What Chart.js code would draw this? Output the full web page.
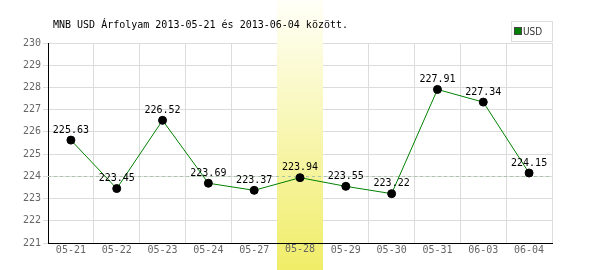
<!DOCTYPE html>
<html>
<head>
<meta charset="utf-8">
<script src="https://cdn.jsdelivr.net/npm/chart.js@4/dist/chart.umd.min.js"></script>
<style>
  html, body { margin: 0; padding: 0; background: #fff; }
  #wrap { width: 600px; height: 270px; }
</style>
</head>
<body>
<div id="wrap"><canvas id="myChart" width="600" height="270"></canvas></div>
<script>
'use strict';

// adatok
var labels = ['05-21', '05-22', '05-23', '05-24', '05-27', '05-28', '05-29', '05-30', '05-31', '06-03', '06-04'];
var usdValues = [225.63, 223.45, 226.52, 223.69, 223.37, 223.94, 223.55, 223.22, 227.91, 227.34, 224.15];
var yTicks = [221, 222, 223, 224, 225, 226, 227, 228, 229, 230];
var refLine = 224;
var highlightIndex = 5;
var titleText = 'MNB USD Árfolyam 2013-05-21 és 2013-06-04 között.';

var MONO = '10px "DejaVu Sans Mono", monospace';

// saját rajzolás: kiemelt oszlop, szaggatott vonal, címkék, cím, jelmagyarázat
var extras = {
  id: 'extras',
  beforeDatasetsDraw: function(chart) {
    var c = chart.ctx, x = chart.scales.x, y = chart.scales.y, a = chart.chartArea;
    var step = (a.right - a.left) / labels.length;
    var cx = x.getPixelForValue(highlightIndex);
    var g = c.createLinearGradient(0, 0, 0, chart.height);
    g.addColorStop(0, '#fffff8');
    g.addColorStop(1, '#f0ed68');
    c.save();
    c.fillStyle = g;
    c.fillRect(Math.round(cx - step / 2), 0, Math.round(step), chart.height);
    // tengely vonal újra a kiemelés fölött
    c.strokeStyle = '#000';
    c.lineWidth = 1;
    c.beginPath();
    c.moveTo(a.left, Math.round(a.bottom) + 0.5);
    c.lineTo(a.right, Math.round(a.bottom) + 0.5);
    c.stroke();
    // a kiemelt címke újra
    c.font = MONO;
    c.fillStyle = '#666';
    c.textAlign = 'center';
    c.textBaseline = 'middle';
    c.fillText(labels[highlightIndex], cx, a.bottom + 6);
    // szaggatott vonal
    var ry = Math.round(y.getPixelForValue(refLine)) + 0.5;
    c.strokeStyle = '#a9c4a9';
    c.setLineDash([3, 3]);
    c.beginPath();
    c.moveTo(a.left, ry);
    c.lineTo(a.right, ry);
    c.stroke();
    c.restore();
  },
  afterDraw: function(chart) {
    var c = chart.ctx;
    var meta = chart.getDatasetMeta(0);
    c.save();
    c.font = MONO;
    c.fillStyle = '#000';
    c.textAlign = 'center';
    c.textBaseline = 'middle';
    meta.data.forEach(function(p, i) {
      c.fillText(usdValues[i].toFixed(2), p.x, p.y - 10);
    });
    // cím
    c.textAlign = 'left';
    c.fillText(titleText, 53, 25);
    // jelmagyarázat
    c.fillStyle = '#fff';
    c.fillRect(511.5, 21.5, 41, 20);
    c.strokeStyle = '#ddd';
    c.strokeRect(511.5, 21.5, 41, 20);
    c.fillStyle = '#008000';
    c.fillRect(515, 28, 6, 6);
    c.strokeStyle = '#444';
    c.strokeRect(514.5, 27.5, 7, 7);
    c.font = '10px "DejaVu Sans Condensed", "Liberation Sans Narrow", sans-serif';
    c.fillStyle = '#333';
    c.fillText(chart.data.datasets[0].label, 523, 32);
    c.restore();
  }
};

var ctx = document.getElementById('myChart').getContext('2d');

var chart = new Chart(ctx, {
  type: 'line',
  data: {
    labels: labels,
    datasets: [{
      label: 'USD',
      data: usdValues,
      borderColor: '#008000',
      borderWidth: 1,
      tension: 0,
      pointRadius: 4,
      pointHoverRadius: 4,
      pointBackgroundColor: '#000',
      pointBorderColor: '#000',
      pointBorderWidth: 1
    }]
  },
  options: {
    responsive: false,
    animation: false,
    layout: { padding: { left: 0, right: 48, top: 43, bottom: 0 } },
    plugins: {
      legend: { display: false },
      title: { display: false },
      tooltip: { enabled: false }
    },
    scales: {
      x: {
        offset: true,
        grid: { offset: true, color: '#dcdcdc', drawTicks: false },
        border: { color: '#000', width: 1 },
        ticks: { font: { family: 'DejaVu Sans Mono', size: 10 }, color: '#666', padding: 1, maxRotation: 0, autoSkip: false },
        afterFit: function(s) { s.height = 27; }
      },
      y: {
        min: yTicks[0],
        max: yTicks[yTicks.length - 1],
        afterBuildTicks: function(s) { s.ticks = yTicks.map(function(v) { return { value: v }; }); },
        grid: { color: '#dcdcdc', tickLength: 5 },
        border: { color: '#000', width: 1 },
        ticks: { font: { family: 'DejaVu Sans Mono', size: 10 }, color: '#666', padding: 2 },
        afterFit: function(s) { s.width = 48; }
      }
    }
  },
  plugins: [extras]
});
</script>
</body>
</html>
